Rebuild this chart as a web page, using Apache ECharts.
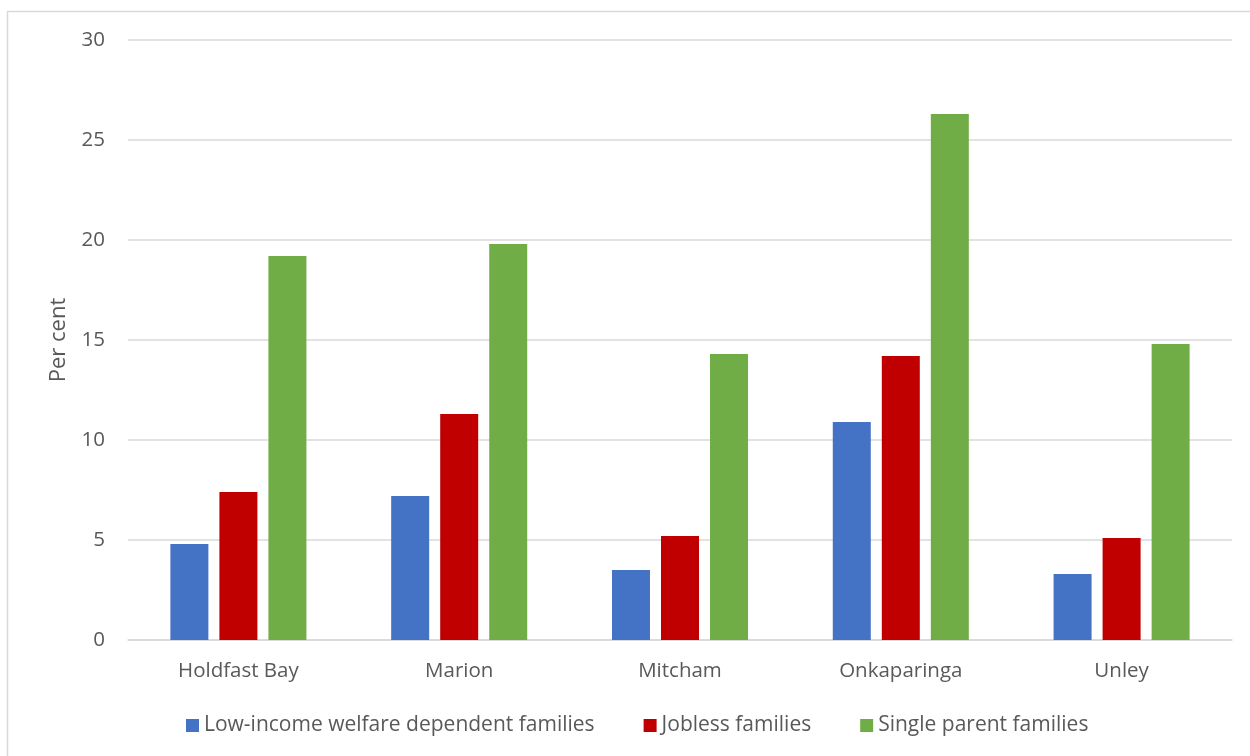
<!DOCTYPE html>
<html>
<head>
<meta charset="utf-8">
<script src="https://cdn.jsdelivr.net/npm/echarts@6/dist/echarts.min.js"></script>
<style>
html,body{margin:0;padding:0;background:#fff;}
#chart{width:1250px;height:756px;}
</style>
</head>
<body>
<div id="chart"></div>
<script>
const categories = ['Holdfast Bay', 'Marion', 'Mitcham', 'Onkaparinga', 'Unley'];
const lowIncome = [4.8, 7.2, 3.5, 10.9, 3.3];
const jobless = [7.4, 11.3, 5.2, 14.2, 5.1];
const singleParent = [19.2, 19.8, 14.3, 26.3, 14.8];
const yTicks = { min: 0, max: 30, interval: 5 };

const FONT = '"Open Sans", "Liberation Sans", sans-serif';
const TXT = '#595959';

const chart = echarts.init(document.getElementById('chart'), null, { renderer: 'canvas' });
chart.setOption({
  animation: false,
  backgroundColor: '#fff',
  graphic: [{
    type: 'rect',
    shape: { x: 7.5, y: 11.5, width: 1260, height: 760 },
    style: { fill: 'none', stroke: '#d9d9d9', lineWidth: 1.5 },
    silent: true
  }],
  grid: { left: 128, right: 18, top: 40, bottom: 116, containLabel: false },
  legend: {
    bottom: 20,
    left: 186,
    padding: 0,
    itemWidth: 13,
    itemHeight: 13,
    itemGap: 49,
    icon: 'rect',
    textStyle: { color: TXT, fontSize: 21, fontFamily: FONT },
    data: ['Low-income welfare dependent families', 'Jobless families', 'Single parent families']
  },
  xAxis: {
    type: 'category',
    data: categories,
    axisLine: { show: true, lineStyle: { color: '#d9d9d9', width: 1.5 } },
    axisTick: { show: false },
    axisLabel: { color: TXT, fontSize: 20.5, fontFamily: FONT, margin: 21 }
  },
  yAxis: {
    type: 'value',
    min: yTicks.min,
    max: yTicks.max,
    interval: yTicks.interval,
    name: 'Per cent',
    nameLocation: 'middle',
    nameGap: 58,
    nameRotate: 90,
    nameTextStyle: { color: TXT, fontSize: 22, fontFamily: FONT },
    axisLine: { show: false },
    axisTick: { show: false },
    axisLabel: { color: TXT, fontSize: 20.5, fontFamily: FONT, margin: 23 },
    splitLine: { lineStyle: { color: '#d9d9d9', width: 1.5 } }
  },
  series: [
    { name: 'Low-income welfare dependent families', type: 'bar', data: lowIncome, barWidth: 38, barGap: '29%', itemStyle: { color: '#4472c4' } },
    { name: 'Jobless families', type: 'bar', data: jobless, barWidth: 38, barGap: '29%', itemStyle: { color: '#c00000' } },
    { name: 'Single parent families', type: 'bar', data: singleParent, barWidth: 38, barGap: '29%', itemStyle: { color: '#70ad47' } }
  ]
});
</script>
</body>
</html>
